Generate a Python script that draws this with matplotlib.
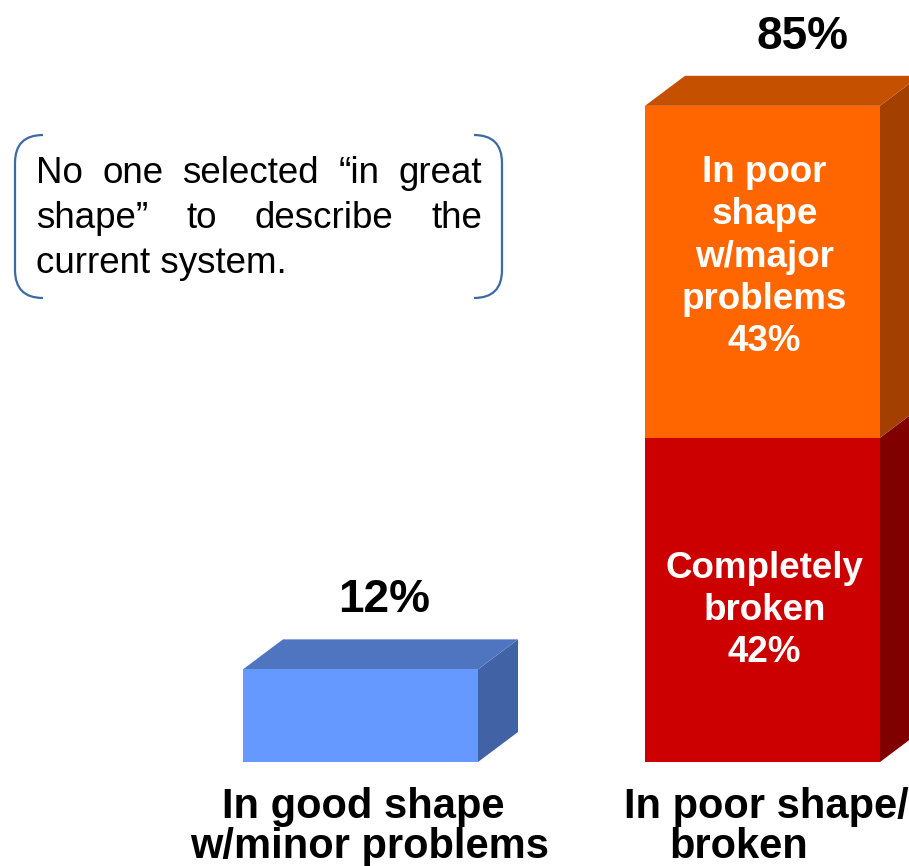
import matplotlib.pyplot as plt
from matplotlib.patches import Polygon, PathPatch
from matplotlib.path import Path

plt.rcParams['font.family'] = ['Liberation Sans', 'DejaVu Sans']

# data
categories = [["In good shape", "w/minor problems"], ["In poor shape/", "broken"]]
totals = [12, 85]
good_vals = [12]
broken_vals = [42]
major_vals = [43]
inner_labels = ["Completely\nbroken\n42%", "In poor\nshape\nw/major\nproblems\n43%"]
note_lines = [["No", "one", "selected", "\u201cin", "great"],
              ["shape\u201d", "to", "describe", "the"],
              ["current system."]]

# colours: front, top, side
blue = ("#6699FF", "#4F75C1", "#4163A6")
red = ("#CC0000", "#A00000", "#800000")
orange = ("#FF6600", "#C45000", "#A33F00")

W, H = 909, 866
fig = plt.figure(figsize=(W / 100, H / 100), dpi=100)
ax = fig.add_axes([0, 0, 1, 1])
# 402 px per category step, 7.72 px per percent, baseline at pixel row 762
ax.set_xlim(-360.5 / 402, -360.5 / 402 + W / 402)
ax.set_ylim(-104 / 7.72, 762 / 7.72)
ax.axis("off")

bw = 235 / 402
dx = 40 / 402
dy = 30 / 7.72


def box(x, bottom, height, cols, top_face=True):
    xl, xr = x - bw / 2, x + bw / 2
    t = bottom + height
    ax.bar(x, height, bw, bottom=bottom, color=cols[0], linewidth=0, zorder=2)
    side = [(xr, bottom), (xr + dx, bottom + dy), (xr + dx, t + dy), (xr, t)]
    ax.add_patch(Polygon(side, closed=True, fc=cols[2], ec="none", zorder=1))
    if top_face:
        top = [(xl, t), (xr, t), (xr + dx, t + dy), (xl + dx, t + dy)]
        ax.add_patch(Polygon(top, closed=True, fc=cols[1], ec="none", zorder=1))


box(0, 0, good_vals[0], blue)
box(1, 0, broken_vals[0], red, top_face=False)
box(1, broken_vals[0], major_vals[0], orange)

# totals above bars
total_dx = [0.06, 0.10]
for i, v in enumerate(totals):
    ax.text(i + total_dx[i], v + dy + 3.5, f"{v}%", ha="center", va="baseline",
            fontsize=33, fontweight="bold", color="black")

# inner labels
ax.text(1.005, broken_vals[0] / 2 - 1.4, inner_labels[0], ha="center", va="center",
        fontsize=26.5, fontweight="bold", color="white", linespacing=1.27)
ax.text(1.005, broken_vals[0] + major_vals[0] / 2 + 1.9, inner_labels[1], ha="center",
        va="center", fontsize=26.5, fontweight="bold", color="white", linespacing=1.27)

# category labels (one text per line, baselines in pixel rows)
cat_dx = [[0.007, 0.022], [0.01, -0.06]]
cat_base = [818, 858]
for i, lines in enumerate(categories):
    for j, line in enumerate(lines):
        ax.text(i + cat_dx[i][j], (762 - cat_base[j]) / 7.72, line, ha="center",
                va="baseline", fontsize=30, fontweight="bold", color="black")

# note box with bracket sides (pixel coords overlay)
ov = fig.add_axes([0, 0, 1, 1])
ov.set_xlim(0, W)
ov.set_ylim(H, 0)
ov.axis("off")
ov.patch.set_alpha(0)

bc = "#3D6AA5"
left = Path([(43, 135), (15, 135), (15, 163), (15, 270), (15, 298), (43, 298)],
            [Path.MOVETO, Path.CURVE3, Path.CURVE3, Path.LINETO, Path.CURVE3, Path.CURVE3])
right = Path([(474, 135), (502, 135), (502, 163), (502, 270), (502, 298), (474, 298)],
             [Path.MOVETO, Path.CURVE3, Path.CURVE3, Path.LINETO, Path.CURVE3, Path.CURVE3])
for p in (left, right):
    ov.add_patch(PathPatch(p, fc="none", ec=bc, lw=1.6))

fig.canvas.draw()
renderer = fig.canvas.get_renderer()
x_start, x_end = 36, 482
baselines = [183, 228, 273]
for li, words in enumerate(note_lines):
    texts = [ov.text(0, baselines[li], w, fontsize=26.5, ha="left", va="baseline")
             for w in words]
    widths = [t.get_window_extent(renderer).width for t in texts]
    if li < len(note_lines) - 1 and len(words) > 1:
        gap = (x_end - x_start - sum(widths)) / (len(words) - 1)
    else:
        gap = 0
    x = x_start
    for t, w in zip(texts, widths):
        t.set_x(x)
        x += w + gap

fig.savefig("out.png", dpi=100)
